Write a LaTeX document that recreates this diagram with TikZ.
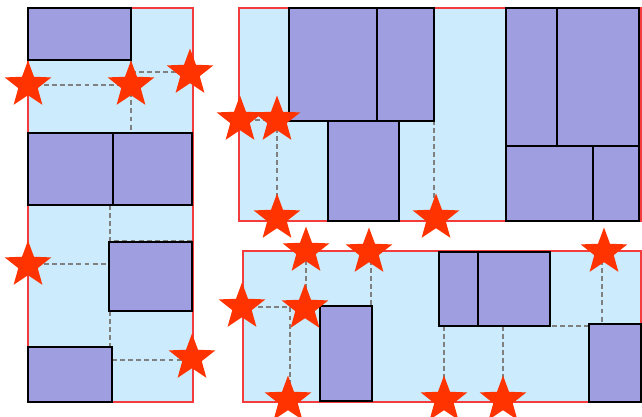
\documentclass[tikz,border=0pt]{standalone}
\usepackage{tikz}
\usetikzlibrary{shapes.geometric}

\definecolor{binfill}{RGB}{204,235,253}
\definecolor{binline}{RGB}{245,60,60}
\definecolor{itemfill}{RGB}{158,158,224}
\definecolor{spotcol}{RGB}{255,51,0}

\begin{document}
\begin{tikzpicture}[
      x=0.02cm, y=-0.02cm,
      bin/.style={draw=binline, fill=binfill, line width=0.6pt},
      item/.style={draw=black, fill=itemfill, line width=1.25pt},
      gap/.style={draw=gray, line width=0.7pt, dash pattern=on 2.8pt off 1.8pt},
      spot/.style={star, star points=5, star point ratio=2.4, fill=spotcol,
                   inner sep=0pt, minimum size=0.98cm}
    ]
    \useasboundingbox (0,0) rectangle (642,416);

    % Behaelter
    \draw[bin] (28,8) rectangle (193,402);
    \draw[bin] (239,8) rectangle (641,221);
    \draw[bin] (243,251) rectangle (641,402);

    % freie Kanten (links)
    \draw[gap] (28,85) -- (131,85);
    \draw[gap] (131,60) -- (131,133);
    \draw[gap] (131,72) -- (190,72);
    \draw[gap] (110,205) -- (110,241) -- (192,241);
    \draw[gap] (28,264) -- (109,264);
    \draw[gap] (110,311) -- (110,347);
    \draw[gap] (112,360) -- (192,360);
    % freie Kanten (oben rechts)
    \draw[gap] (239,120) -- (289,120);
    \draw[gap] (277,120) -- (277,218);
    \draw[gap] (434,120) -- (434,218);
    % freie Kanten (unten rechts)
    \draw[gap] (306,252) -- (306,307);
    \draw[gap] (371,252) -- (371,306);
    \draw[gap] (242,307) -- (290,307) -- (290,400);
    \draw[gap] (439,326) -- (589,326);
    \draw[gap] (444,326) -- (444,400);
    \draw[gap] (503,326) -- (503,400);
    \draw[gap] (602,252) -- (602,324);

    % Pakete
    \draw[item] (28,8) rectangle (131,60);
    \draw[item] (28,133) rectangle (113,205);
    \draw[item] (113,133) rectangle (192,205);
    \draw[item] (109,242) rectangle (192,311);
    \draw[item] (28,347) rectangle (112,402);

    \draw[item] (289,8) rectangle (377,121);
    \draw[item] (377,8) rectangle (434,121);
    \draw[item] (328,121) rectangle (399,221);
    \draw[item] (506,8) rectangle (557,146);
    \draw[item] (557,8) rectangle (639,146);
    \draw[item] (506,146) rectangle (593,221);
    \draw[item] (593,146) rectangle (639,221);

    \draw[item] (320,306) rectangle (372,401);
    \draw[item] (439,252) rectangle (478,326);
    \draw[item] (478,252) rectangle (550,326);
    \draw[item] (589,324) rectangle (641,402);

    % Eckpunkte
    \foreach \p [count=\i] in {(28,85), (131,85), (190,73), (28,265), (192,358)}
      \node[spot] (a\i) at \p {};
    \foreach \p [count=\i] in {(240,120), (277,120), (277,218), (436,218)}
      \node[spot] (b\i) at \p {};
    \foreach \p [count=\i] in {(306,251), (369,252), (242,307), (305,308),
                               (288,400), (444,400), (503,400), (604,252)}
      \node[spot] (c\i) at \p {};
  \end{tikzpicture}
\end{document}
